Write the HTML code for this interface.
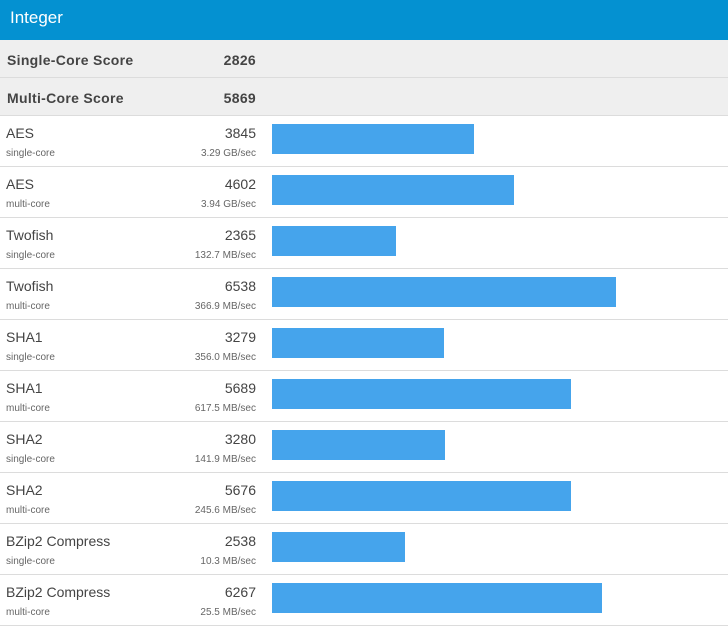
<!DOCTYPE html>
<html><head><meta charset="utf-8">
<style>
body{margin:0;width:728px;height:621px;overflow:hidden;background:#fff;font-family:"Liberation Sans",Arial,sans-serif;color:#444}
#hdr{height:40px;background:#0491d1;color:#fff;font-size:17px;line-height:36px;padding-left:10px}
.sum{position:relative;height:37px;background:#efefef;border-bottom:1px solid #dcdcdc;font-weight:bold;font-size:14px;color:#444;letter-spacing:0.3px}
.sum .n{position:absolute;left:7px;top:12px}
.sum .v{position:absolute;right:472px;top:12px}
.row{position:relative;height:50px;border-bottom:1px solid #dcdcdc}
.row .n{position:absolute;left:6px;top:9px;font-size:14px;color:#444}
.row .t{position:absolute;left:6px;top:32px;font-size:10px;color:#666}
.row .v{position:absolute;right:472px;top:9px;font-size:14px;color:#444}
.row .r{position:absolute;right:472px;top:32px;font-size:10px;color:#666}
.row .b{position:absolute;left:272px;top:8px;height:30px;background:#45a4ec}
</style></head><body>
<div id="hdr">Integer</div>
<div class="sum"><span class="n">Single-Core Score</span><span class="v">2826</span></div>
<div class="sum"><span class="n">Multi-Core Score</span><span class="v">5869</span></div>
<div id="rows"></div>
<script>
const names=["AES","AES","Twofish","Twofish","SHA1","SHA1","SHA2","SHA2","BZip2 Compress","BZip2 Compress"];
const types=["single-core","multi-core","single-core","multi-core","single-core","multi-core","single-core","multi-core","single-core","multi-core"];
const scores=[3845,4602,2365,6538,3279,5689,3280,5676,2538,6267];
const rates=["3.29 GB/sec","3.94 GB/sec","132.7 MB/sec","366.9 MB/sec","356.0 MB/sec","617.5 MB/sec","141.9 MB/sec","245.6 MB/sec","10.3 MB/sec","25.5 MB/sec"];
function xScale(v){return v*0.0526;}
const c=document.getElementById('rows');
scores.forEach((s,i)=>{
  const r=document.createElement('div');r.className='row';
  
  
  r.innerHTML='<span class="n">'+names[i]+'</span><span class="t">'+types[i]+'</span><span class="v">'+s+'</span><span class="r">'+rates[i]+'</span>';
  const b=document.createElement('div');b.className='b';b.style.width=xScale(s)+'px';
  
  
  r.appendChild(b);c.appendChild(r);
});
</script>
</body></html>
